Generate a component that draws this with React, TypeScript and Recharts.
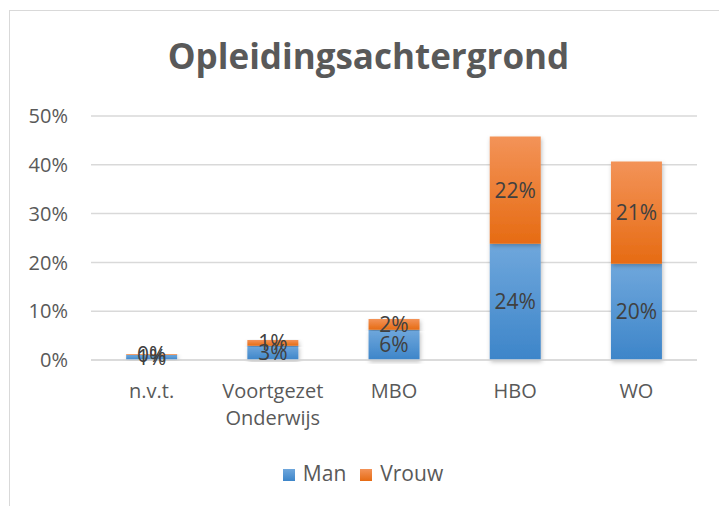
import React from "react";
import { BarChart, Bar, XAxis, YAxis, CartesianGrid, Legend, LabelList } from "recharts";

const categories = ["n.v.t.", "Voortgezet Onderwijs", "MBO", "HBO", "WO"];
const manValues = [1.0, 2.9, 6.2, 23.8, 19.7];
const vrouwValues = [0.2, 1.2, 2.2, 22.0, 21.0];
const yTicks = [0, 10, 20, 30, 40, 50];

const data = categories.map((name, i) => ({
    name,
    Man: manValues[i],
    Vrouw: vrouwValues[i],
}));

const FONT = "'Open Sans', 'Noto Sans', sans-serif";

function CategoryTick(props: any) {
    const { x, y, payload } = props;
    const words: string[] = String(payload.value).split(" ");
    return (
        <g transform={`translate(${x},${y})`}>
            {words.map((w, i) => (
                <text key={i} x={0} y={i * 27} dy={30} textAnchor="middle" fill="#595959" fontSize={20} fontFamily={FONT}>
                    {w}
                </text>
            ))}
        </g>
    );
}

const pct = (v: any) => `${Math.round(Number(v))}%`;

export default function App() {
    return (
        <div style={{ position: "absolute", left: 0, top: 0, width: 719, height: 506, background: "#fff", overflow: "hidden" }}>
            <div style={{ position: "absolute", left: 9, top: 10, width: 760, height: 560, border: "1px solid #d9d9d9" }} />
            <div
                style={{
                    position: "absolute", left: 0, top: 32, width: 737, textAlign: "center",
                    fontFamily: FONT, fontWeight: 700, fontSize: 35, color: "#595959",
                }}
            >
                Opleidingsachtergrond
            </div>
            <div style={{ position: "absolute", left: 0, top: 0 }}>
                <BarChart
                    width={719}
                    height={506}
                    data={data}
                    margin={{ top: 116, right: 22, left: 0, bottom: 0 }}
                    barCategoryGap="29%"
                >
                    <defs>
                        <linearGradient id="gMan" x1="0" y1="0" x2="0" y2="1">
                            <stop offset="0%" stopColor="#6fa7dc" />
                            <stop offset="100%" stopColor="#3d85c9" />
                        </linearGradient>
                        <linearGradient id="gVrouw" x1="0" y1="0" x2="0" y2="1">
                            <stop offset="0%" stopColor="#f39358" />
                            <stop offset="100%" stopColor="#e66b13" />
                        </linearGradient>
                        <filter id="shadow" x="-20%" y="-5%" width="140%" height="115%">
                            <feDropShadow dx="1" dy="2" stdDeviation="2" floodColor="#000" floodOpacity="0.25" />
                        </filter>
                    </defs>
                    <CartesianGrid vertical={false} stroke="#d9d9d9" strokeWidth={1.5} />
                    <XAxis
                        dataKey="name"
                        tick={<CategoryTick />}
                        tickLine={false}
                        axisLine={{ stroke: "#d9d9d9", strokeWidth: 1.5 }}
                        height={118}
                        interval={0}
                    />
                    <YAxis
                        domain={[0, 50]}
                        ticks={yTicks}
                        tickFormatter={(v: number) => `${v}%`}
                        axisLine={false}
                        tickLine={false}
                        width={91}
                        tickSize={0}
                        tickMargin={23}
                        tick={{ fill: "#595959", fontSize: 20, fontFamily: FONT }}
                    />
                    <Legend
                        verticalAlign="bottom"
                        iconType="square"
                        iconSize={12}
                        wrapperStyle={{ top: 459, left: 0, width: 740, fontFamily: FONT, fontSize: 21 }}
                        formatter={(value: string) => <span style={{ color: "#595959", paddingLeft: 4, paddingRight: 4 }}>{value}</span>}
                    />
                    <Bar dataKey="Man" stackId="a" fill="url(#gMan)" filter="url(#shadow)" isAnimationActive={false} legendType="square">
                        <LabelList dataKey="Man" position="center" formatter={pct} fill="#404040" fontSize={21} fontFamily={FONT} />
                    </Bar>
                    <Bar dataKey="Vrouw" stackId="a" fill="url(#gVrouw)" filter="url(#shadow)" isAnimationActive={false} legendType="square">
                        <LabelList dataKey="Vrouw" position="center" formatter={pct} fill="#404040" fontSize={21} fontFamily={FONT} />
                    </Bar>
                </BarChart>
            </div>
        </div>
    );
}
